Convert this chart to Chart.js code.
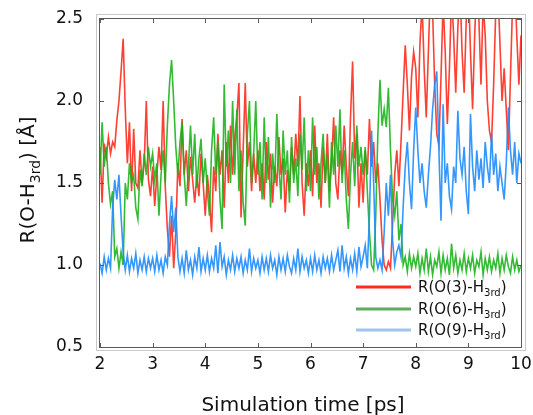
<!DOCTYPE html>
<html>
<head>
<meta charset="utf-8">
<script src="https://cdn.jsdelivr.net/npm/chart.js@4.4.1/dist/chart.umd.min.js"></script>
<style>
  html, body { margin: 0; padding: 0; background: #fff; }
  #wrap { width: 533px; height: 415px; }
</style>
</head>
<body>
<div id="wrap"><canvas id="rChart" width="533" height="415"></canvas></div>
<script>
// sampling grid of the traces (ps)
const tStart = 2
const tStep = 0.04

// R(O(3)-H3rd) [Å], one row per ps
const rO3 = [
  1.72, 1.38, 1.74, 1.66, 1.78, 1.68, 1.75, 1.72, 1.88, 2.0, 2.18, 2.38, 1.95, 1.62, 1.87, 1.45, 1.83, 1.5, 1.47, 1.7, 1.5, 1.62, 2.0, 1.52, 1.42,
  1.6, 1.36, 1.55, 1.72, 1.58, 2.0, 1.48, 1.22, 1.05, 1.3, 0.98, 1.2, 1.62, 1.48, 1.89, 1.55, 1.7, 1.45, 1.66, 1.52, 1.38, 1.55, 1.42, 1.68, 1.5,
  1.3, 1.55, 1.4, 1.2, 1.6, 1.45, 1.8, 1.55, 1.7, 1.35, 1.75, 1.5, 1.85, 1.55, 1.78, 1.9, 2.11, 1.29, 1.7, 2.11, 1.6, 1.75, 1.45, 1.68, 1.5,
  1.7, 1.45, 1.62, 1.4, 1.75, 1.52, 1.68, 1.38, 1.6, 1.48, 1.78, 1.55, 1.65, 1.32, 1.58, 1.45, 1.72, 1.55, 1.8, 1.6, 2.03, 1.5, 1.3, 1.62, 1.48,
  1.7, 1.42, 1.85, 1.5, 1.62, 1.35, 1.72, 1.5, 1.8, 1.45, 1.62, 1.9, 1.5, 1.4, 1.7, 1.55, 1.85, 1.6, 1.42, 1.9, 2.24, 1.65, 1.8, 1.35, 1.62,
  1.38, 1.7, 1.55, 1.89, 1.6, 1.75, 1.5, 1.62, 1.4, 1.15, 1.0, 0.97, 1.02, 0.98, 1.25, 1.55, 1.7, 1.48, 1.75, 2.05, 2.34, 2.1, 1.82, 2.15, 2.3,
  2.2, 1.9, 2.35, 2.6, 2.2, 1.9, 2.3, 2.7, 2.55, 2.1, 1.8, 1.73, 2.15, 2.6, 2.3, 1.86, 2.2, 2.65, 2.4, 2.05, 2.45, 2.7, 2.3, 2.05, 2.5,
  2.7, 2.3, 1.95, 2.4, 2.75, 2.5, 2.1, 2.6, 2.4, 2.0, 1.82, 1.75, 2.1, 2.55, 2.7, 2.35, 2.0, 2.2, 1.95, 1.7, 2.15, 2.6, 2.75, 2.4, 2.1,
  2.4
]

// R(O(6)-H3rd) [Å]
const rO6 = [
  1.55, 1.87, 1.6, 1.72, 1.5, 1.37, 1.45, 1.05, 1.1, 0.98, 1.08, 1.0, 1.5, 1.4, 1.62, 1.5, 1.55, 1.35, 1.28, 1.58, 1.48, 1.68, 1.55, 1.72, 1.6,
  1.68, 1.52, 1.62, 1.3, 1.55, 1.7, 1.5, 1.85, 2.1, 2.25, 2.0, 1.72, 1.55, 1.75, 1.87, 1.55, 1.36, 1.6, 1.85, 1.55, 1.8, 1.47, 1.65, 1.77, 1.5,
  1.65, 1.45, 1.3, 1.7, 1.9, 1.55, 1.75, 1.4, 1.22, 2.1, 1.6, 1.82, 1.5, 2.0, 1.55, 1.95, 1.45, 1.7, 1.38, 1.24, 1.8, 2.0, 1.5, 1.68, 2.0,
  1.55, 1.75, 1.4, 1.9, 1.5, 1.78, 1.35, 1.68, 1.5, 1.92, 1.6, 1.4, 1.82, 1.55, 1.7, 1.38, 1.78, 1.5, 1.65, 1.42, 1.8, 1.58, 1.9, 1.45, 1.7,
  1.45, 1.9, 1.55, 1.72, 1.4, 1.62, 1.8, 1.5, 1.68, 1.35, 1.75, 1.55, 1.85, 1.6, 1.95, 1.5, 1.7, 1.4, 1.22, 1.55, 1.75, 1.48, 1.85, 1.6, 1.72,
  1.55, 1.72, 1.45, 1.2, 1.0, 0.97, 1.3, 1.8, 2.13, 1.85, 1.95, 1.84, 2.08, 1.7, 1.4, 1.3, 1.45, 1.15, 1.25, 1.0, 1.05, 0.96, 1.07, 0.98, 1.05,
  0.99, 1.07, 0.95, 1.04, 0.97, 1.1, 0.96, 1.05, 0.94, 1.03, 0.99, 1.08, 0.95, 1.06, 0.97, 1.04, 0.94, 1.13, 0.98, 1.06, 0.95, 1.03, 0.97, 1.07, 0.96,
  1.04, 0.98, 1.06, 0.95, 1.03, 0.99, 1.08, 0.94, 1.04, 0.97, 1.05, 0.96, 1.03, 0.98, 1.07, 0.95, 1.04, 0.97, 1.06, 0.99, 0.95, 1.05, 0.97, 1.03, 0.96,
  1.0
]

// R(O(9)-H3rd) [Å]
const rO9 = [
  1.01, 0.95, 1.05, 0.97, 1.04, 0.98, 1.35, 1.52, 1.4, 1.55, 1.3, 1.08, 0.97, 1.06, 0.96, 1.04, 0.98, 1.07, 0.95, 1.03, 0.97, 1.05, 0.96, 1.04, 0.98,
  1.04, 0.96, 1.06, 0.97, 1.03, 0.95, 1.05, 1.0, 1.25, 1.42, 1.2, 1.35, 1.05, 0.96, 1.04, 0.95, 1.09, 0.97, 1.03, 0.94, 1.05, 0.98, 1.11, 0.96, 1.04,
  0.97, 1.06, 0.96, 1.04, 0.98, 1.12, 0.95, 1.14, 0.99, 1.05, 0.94, 1.03, 0.97, 1.06, 0.96, 1.04, 0.98, 1.05, 0.95, 1.03, 0.97, 1.1, 0.96, 1.04, 0.98,
  1.03, 0.95, 1.05, 0.97, 1.04, 0.96, 1.06, 0.98, 1.03, 0.94, 1.05, 0.97, 1.04, 0.96, 1.06, 0.99, 0.95, 1.04, 0.97, 1.1, 0.96, 1.05, 0.98, 1.03, 0.95,
  1.04, 0.96, 1.06, 0.97, 1.03, 0.95, 1.05, 0.98, 1.04, 0.96, 1.06, 0.97, 1.03, 1.09, 0.96, 1.12, 0.98, 1.05, 0.95, 1.04, 0.97, 1.07, 0.96, 1.11, 0.99,
  1.05, 1.12, 0.98, 1.3, 1.82, 1.5, 1.05, 0.98, 1.03, 0.97, 1.2, 1.5, 1.3, 1.55, 1.15, 1.0, 1.08, 1.12, 1.05, 1.35, 1.6, 1.75, 1.5, 1.34, 1.7,
  1.96, 1.7, 1.5, 1.62, 1.45, 1.35, 1.55, 1.72, 1.95, 2.1, 2.18, 1.7, 1.27, 1.98, 1.5, 1.62, 1.42, 1.34, 1.6, 1.5, 1.94, 1.65, 1.55, 1.72, 1.45,
  1.31, 1.92, 1.6, 1.45, 1.7, 1.52, 1.65, 1.47, 1.75, 1.6, 1.5, 1.8, 1.55, 1.68, 1.45, 1.6, 1.5, 1.4, 1.62, 1.96, 1.7, 1.55, 1.75, 1.5, 1.68,
  1.62
]

const seriesTags = ['O(3)', 'O(6)', 'O(9)']
const lineColors = ['rgba(255,38,22,0.88)', 'rgba(24,178,24,0.88)', 'rgba(30,140,255,0.9)']
const legendColors = ['rgb(255,45,30)', 'rgb(96,172,96)', 'rgb(160,196,236)']
const xTicks = [2, 3, 4, 5, 6, 7, 8, 9, 10]
const yTicks = [0.5, 1.0, 1.5, 2.0, 2.5]

const FONT = '"DejaVu Sans", "Liberation Sans", sans-serif'

const toPoints = (vals) => vals.map((v, i) => ({ x: tStart + i * tStep, y: v }))

// text with a "3rd" subscript, drawn piece by piece
function richWidth(ctx, parts, size) {
  let w = 0
  parts.forEach(p => {
    ctx.font = `${p.sub ? Math.round(size * 0.68) : size}px ${FONT}`
    w += ctx.measureText(p.t).width
  })
  return w
}
function drawRich(ctx, parts, x, y, size) {
  parts.forEach(p => {
    const s = p.sub ? Math.round(size * 0.68) : size
    ctx.font = `${s}px ${FONT}`
    ctx.fillText(p.t, x, p.sub ? y + size * 0.28 : y)
    x += ctx.measureText(p.t).width
  })
}

const decorations = {
  id: 'decorations',
  afterDraw(chart) {
    const { ctx, chartArea: a, scales } = chart
    const xs = scales.x, ys = scales.y
    ctx.save()

    // light outer frame + dark plot frame
    ctx.lineWidth = 1
    ctx.strokeStyle = '#c9c9c9'
    ctx.strokeRect(a.left - 3.5, a.top - 4.5, a.width + 8, a.height + 8)
    ctx.strokeStyle = '#5a5a5a'
    ctx.strokeRect(a.left - 0.5, a.top - 0.5, a.width + 1, a.height + 1)

    // inward tick marks on all four sides
    ctx.beginPath()
    xTicks.forEach(v => {
      const px = Math.round(xs.getPixelForValue(v)) + 0.5
      ctx.moveTo(px, a.bottom); ctx.lineTo(px, a.bottom - 4)
      ctx.moveTo(px, a.top); ctx.lineTo(px, a.top + 4)
    })
    yTicks.forEach(v => {
      const py = Math.round(ys.getPixelForValue(v)) + 0.5
      ctx.moveTo(a.left, py); ctx.lineTo(a.left + 4, py)
      ctx.moveTo(a.right, py); ctx.lineTo(a.right - 4, py)
    })
    ctx.stroke()

    ctx.fillStyle = '#111'
    ctx.textBaseline = 'alphabetic'

    // x title
    ctx.font = `20px ${FONT}`
    ctx.textAlign = 'center'
    ctx.fillText('Simulation time [ps]', 303, 411)

    // y title (rotated)
    ctx.textAlign = 'left'
    const yParts = [{ t: 'R(O-H' }, { t: '3rd', sub: true }, { t: ') [Å]' }]
    const yw = richWidth(ctx, yParts, 20)
    ctx.save()
    ctx.translate(34, (a.top + a.bottom) / 2 - 3)
    ctx.rotate(-Math.PI / 2)
    drawRich(ctx, yParts, -yw / 2, 0, 20)
    ctx.restore()

    // legend
    const rows = [287, 309, 330]
    seriesTags.forEach((tag, i) => {
      ctx.strokeStyle = legendColors[i]
      ctx.lineWidth = 3
      ctx.beginPath()
      ctx.moveTo(356, rows[i]); ctx.lineTo(411, rows[i])
      ctx.stroke()
      ctx.fillStyle = '#111'
      drawRich(ctx, [{ t: `R(${tag}-H` }, { t: '3rd', sub: true }, { t: ')' }], 418, rows[i] + 5, 15)
    })

    ctx.restore()
  }
}

const series = [rO3, rO6, rO9]

new Chart(document.getElementById('rChart'), {
  type: 'line',
  data: {
    datasets: series.map((vals, i) => ({
      label: `R(${seriesTags[i]}-H3rd)`,
      data: toPoints(vals),
      borderColor: lineColors[i],
      borderWidth: 1.6,
      pointRadius: 0,
      tension: 0,
      order: 3 - i,
    })),
  },
  options: {
    responsive: false,
    animation: false,
    devicePixelRatio: 1,
    layout: { padding: { top: 19, right: 12, left: 0, bottom: 0 } },
    plugins: { legend: { display: false }, tooltip: { enabled: false } },
    scales: {
      x: {
        type: 'linear',
        min: 2,
        max: 10,
        afterFit: (s) => { s.height = 68; s.paddingLeft = 0; s.paddingRight = 0 },
        afterBuildTicks: (s) => { s.ticks = xTicks.map(v => ({ value: v })) },
        grid: { display: false, drawTicks: false },
        border: { display: false },
        ticks: {
          color: '#111',
          padding: 7,
          maxRotation: 0,
          font: { family: FONT, size: 17 },
        },
      },
      y: {
        min: 0.5,
        max: 2.5,
        afterFit: (s) => { s.width = 100; s.paddingTop = 0; s.paddingBottom = 0 },
        afterBuildTicks: (s) => { s.ticks = yTicks.map(v => ({ value: v })) },
        grid: { display: false, drawTicks: false },
        border: { display: false },
        ticks: {
          color: '#111',
          padding: 17,
          font: { family: FONT, size: 17 },
          callback: (v) => Number(v).toFixed(1),
        },
      },
    },
  },
  plugins: [decorations],
})
</script>
</body>
</html>
